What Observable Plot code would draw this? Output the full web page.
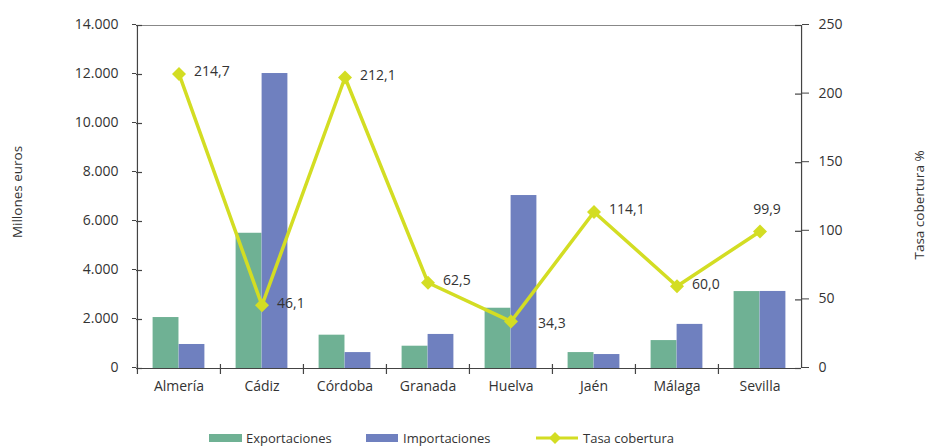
<!DOCTYPE html>
<html>
<head>
<meta charset="utf-8">
<script src="https://cdn.jsdelivr.net/npm/d3@7"></script>
<script src="https://cdn.jsdelivr.net/npm/@observablehq/plot@0.6"></script>
<style>
  html, body { margin: 0; padding: 0; background: #fff; }
  #wrap { width: 928px; font-family: "Open Sans", sans-serif; color: #333; }
  #legend { position: relative; width: 928px; height: 27px; font-size: 13px; }
  #legend .sw { position: absolute; top: 14px; height: 8px; }
  #legend .lb { position: absolute; top: 9px; line-height: 18px; white-space: nowrap; }
</style>
</head>
<body>
<div id="wrap">
  <div id="chart"></div>
  <div id="legend">
    <div class="sw" style="left:209px;width:33px;background:#6fb194"></div>
    <div class="lb" style="left:246px">Exportaciones</div>
    <div class="sw" style="left:366px;width:32px;background:#6f80bf"></div>
    <div class="lb" style="left:403px">Importaciones</div>
    <svg style="position:absolute;left:534px;top:10px" width="46" height="16">
      <line x1="2" y1="8" x2="44" y2="8" stroke="#d3dd23" stroke-width="3"/>
      <path d="M21,2 L27,8 L21,14 L15,8 Z" fill="#d3dd23"/>
    </svg>
    <div class="lb" style="left:583px">Tasa cobertura</div>
  </div>
</div>
<script>
const categories = ["Almería", "Cádiz", "Córdoba", "Granada", "Huelva", "Jaén", "Málaga", "Sevilla"];
const exportaciones = [2080, 5520, 1360, 910, 2460, 650, 1140, 3140];
const importaciones = [980, 12040, 650, 1390, 7060, 570, 1800, 3145];
const tasaCobertura = [214.7, 46.1, 212.1, 62.5, 34.3, 114.1, 60.0, 99.9];
const leftTicks = [0, 2000, 4000, 6000, 8000, 10000, 12000, 14000];
const rightTicks = [0, 50, 100, 150, 200, 250];

const yMax = 14000, rMax = 250, k = yMax / rMax;
const data = categories.map((c, i) => ({
  name: c, exp: exportaciones[i], imp: importaciones[i], tasa: tasaCobertura[i], i
}));

const W = 928, H = 420, mL = 136, mR = 127, mT = 25, mB = 52;
const fw = W - mL - mR, fh = H - mT - mB, bw = fw / categories.length;

const loc = d3.formatLocale({decimal: ",", thousands: ".", grouping: [3], currency: ["", "€"]});
const fmtLeft = loc.format(",");
const fmtPct = d => d.toFixed(1).replace(".", ",");

const green = "#6fb194", blue = "#6f80bf", lime = "#d3dd23", axisCol = "#444";

const plot = Plot.plot({
  width: W, height: H,
  marginLeft: mL, marginRight: mR, marginTop: mT, marginBottom: mB,
  style: {fontFamily: "Open Sans, sans-serif", fontSize: "14px", color: "#333", background: "#fff"},
  x: {type: "band", domain: categories, padding: 0, label: null},
  y: {domain: [0, yMax], label: null},
  marks: [
    Plot.barY(data, {x: "name", y: "exp", fill: green, insetLeft: 15.6, insetRight: bw - 41.6}),
    Plot.barY(data, {x: "name", y: "imp", fill: blue, insetLeft: 41.6, insetRight: 15.6}),
    // top frame line
    Plot.ruleY([yMax], {stroke: "#888", strokeWidth: 1.2}),
    // axis lines
    Plot.ruleY([0], {stroke: axisCol, strokeWidth: 1.2}),
    Plot.ruleX([categories[0]], {x: d => d, dx: -bw / 2, stroke: axisCol, strokeWidth: 1.2}),
    Plot.ruleX([categories[categories.length - 1]], {x: d => d, dx: bw / 2, stroke: axisCol, strokeWidth: 1.2}),
    // bottom category boundary ticks
    Plot.ruleX(categories, {x: d => d, dx: -bw / 2, insetTop: fh - 4, insetBottom: -6, stroke: axisCol, strokeWidth: 1.2}),
    // left axis
    Plot.axisY({ticks: leftTicks, tickFormat: fmtLeft, tickSize: 4, tickPadding: 14, dy: -1, stroke: axisCol, fill: "#333", fontSize: 14}),
    Plot.gridY(leftTicks, {insetRight: fw - 6, stroke: axisCol, strokeOpacity: 1, strokeWidth: 1.2}),
    // right axis
    Plot.axisY({anchor: "right", ticks: rightTicks.map(v => v * k), tickFormat: d => String(Math.round(d / k)), tickSize: 7, tickPadding: 10, dy: -1, stroke: axisCol, fill: "#333", fontSize: 14}),
    Plot.gridY(rightTicks.map(v => v * k), {insetLeft: fw - 6, stroke: axisCol, strokeOpacity: 1, strokeWidth: 1.2}),
    // x labels
    Plot.axisX({tickSize: 0, tickPadding: 13, fill: "#333", fontSize: 14}),
    // axis titles
    Plot.text(["Millones euros"], {text: d => d, frameAnchor: "left", textAnchor: "middle", rotate: -90, dx: -119, dy: -5, fill: "#333", fontSize: 13.5}),
    Plot.text(["Tasa cobertura %"], {text: d => d, frameAnchor: "right", textAnchor: "middle", rotate: -90, dx: 118, dy: 8, fill: "#333", fontSize: 13.5}),
    // line
    Plot.line(data, {x: "name", y: d => d.tasa * k, stroke: lime, strokeWidth: 3.5}),
    Plot.dot(data, {x: "name", y: d => d.tasa * k, symbol: "diamond2", r: 6.3, fill: lime, stroke: null}),
    Plot.text(data.filter(d => d.i !== 4 && d.i !== 7), {x: "name", y: d => d.tasa * k, text: d => fmtPct(d.tasa), textAnchor: "start", dx: 15, dy: -2, fill: "#333", fontSize: 14}),
    Plot.text(data.filter(d => d.i === 4), {x: "name", y: d => d.tasa * k, text: d => fmtPct(d.tasa), textAnchor: "start", dx: 27, dy: 2, fill: "#333", fontSize: 14}),
    Plot.text(data.filter(d => d.i === 7), {x: "name", y: d => d.tasa * k, text: d => fmtPct(d.tasa), textAnchor: "middle", dx: 7, dy: -22, fill: "#333", fontSize: 14})
  ]
});
document.getElementById("chart").appendChild(plot);
</script>
</body>
</html>
